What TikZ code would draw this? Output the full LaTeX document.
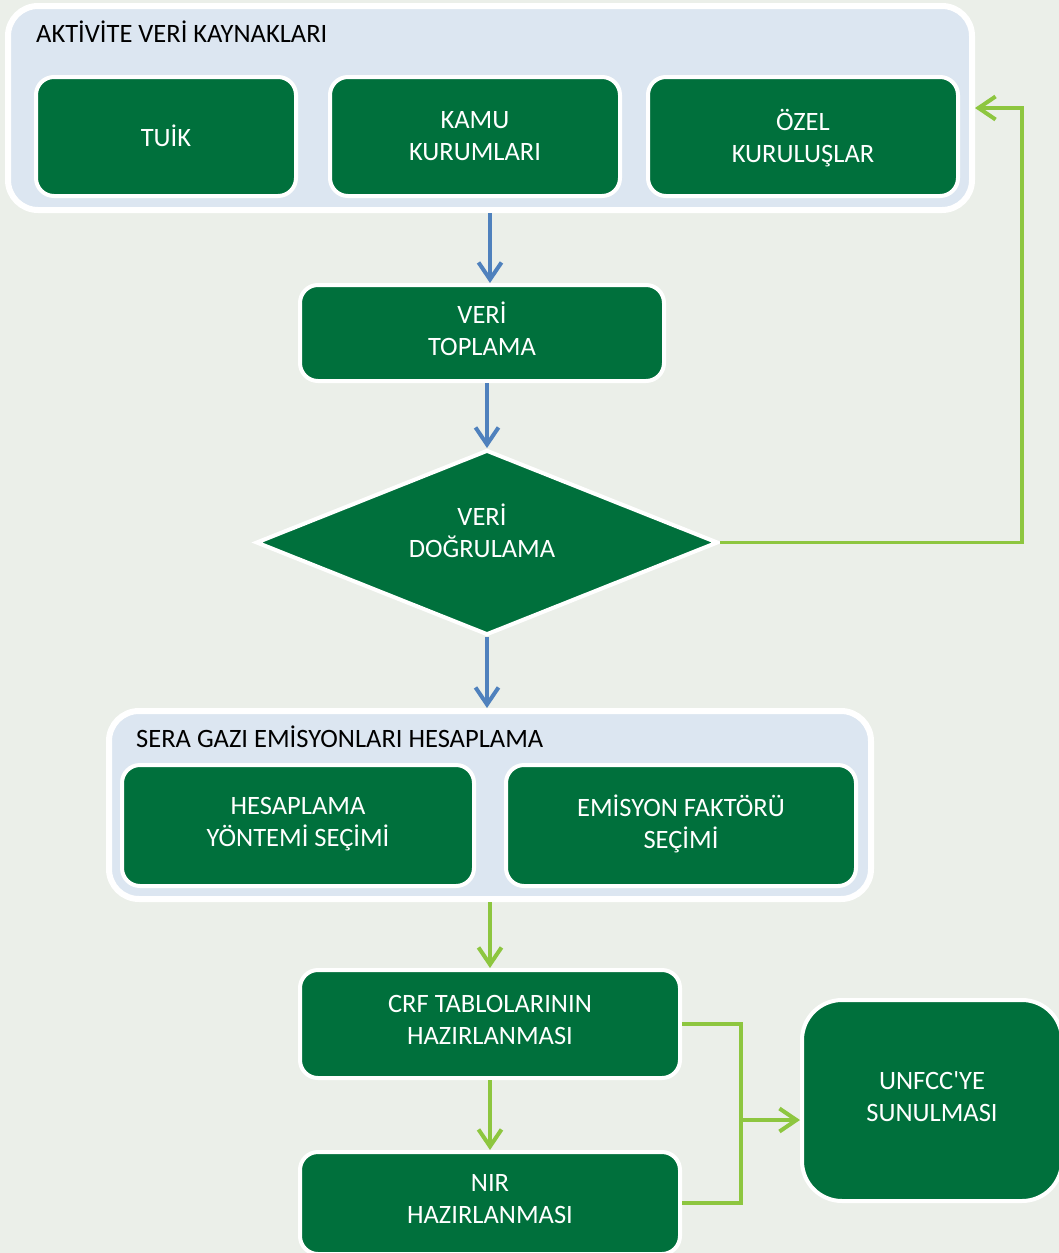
\documentclass[tikz,border=0pt]{standalone}
\usepackage{fontspec}
\setmainfont{Carlito}
\usetikzlibrary{arrows.meta,shapes.geometric}
\definecolor{bgcol}{RGB}{235,239,233}
\definecolor{panelcol}{RGB}{220,230,241}
\definecolor{dkgreen}{RGB}{0,112,60}
\definecolor{flowblue}{RGB}{79,129,189}
\definecolor{ltgreen}{RGB}{141,198,63}
\begin{document}
\begin{tikzpicture}[x=1pt,y=-1pt,
  panel/.style={rectangle, rounded corners=30pt, fill=panelcol, draw=white, line width=6pt, inner sep=0pt},
  stepbox/.style={rectangle, rounded corners=18pt, fill=dkgreen, draw=white, line width=4pt,
    text=white, align=center, inner sep=0pt, text depth=8pt, font=\fontsize{26.5}{32}\selectfont},
  title/.style={anchor=base west, inner sep=0pt, font=\fontsize{26.5}{32}\selectfont},
  flow/.style={line width=3.5pt, -{Straight Barb[length=17pt,width=23pt,line width=4pt]}},
  link/.style={line width=3.5pt, ltgreen}]
\clip (0,0) rectangle (1059,1253);
\fill[bgcol] (0,0) rectangle (1059,1253);
% data sources
\node[panel, minimum width=964pt, minimum height=204pt] (src) at (490,108){};
\node[title] (srct) at (36,42){AKTİVİTE VERİ KAYNAKLARI};
\node[stepbox, text depth=2pt, minimum width=260pt, minimum height=119pt] (tuik) at (166,136.5){TUİK};
\node[stepbox, text depth=2pt, minimum width=290pt, minimum height=119pt] (kamu) at (475,136.5){KAMU\\KURUMLARI};
\node[stepbox, text depth=2pt, minimum width=310pt, minimum height=119pt] (ozel) at (803,136.5){ÖZEL\\KURULUŞLAR};
% collection and check
\node[stepbox, minimum width=364pt, minimum height=96pt] (top) at (482,333){VERİ\\TOPLAMA};
\node[stepbox, diamond, rounded corners=0pt, aspect=2.5, minimum width=462pt, minimum height=185pt] (chk) at (487,542.5){};
\node[text=white, align=center, inner sep=0pt, font=\fontsize{26.5}{32}\selectfont] (chkt) at (482,531){VERİ\\DOĞRULAMA};
% emission calculation
\node[panel, minimum width=762pt, minimum height=188pt] (ghg) at (490,805){};
\node[title] (ghgt) at (136,747){SERA GAZI EMİSYONLARI HESAPLAMA};
\node[stepbox, minimum width=352pt, minimum height=121pt] (hes) at (298,825.5){HESAPLAMA\\YÖNTEMİ SEÇİMİ};
\node[stepbox, minimum width=350pt, minimum height=121pt] (emf) at (681,825.5){EMİSYON FAKTÖRÜ\\SEÇİMİ};
% reporting
\node[stepbox, minimum width=380pt, minimum height=108pt] (crf) at (490,1024){CRF TABLOLARININ\\HAZIRLANMASI};
\node[stepbox, minimum width=380pt, minimum height=102pt] (nir) at (490,1203){NIR\\HAZIRLANMASI};
\node[stepbox, rounded corners=40pt, minimum width=260pt, minimum height=201pt] (unf) at (932,1100.5){UNFCC\textquotesingle YE\\SUNULMASI};
\coordinate (jn) at (741,1120);
\draw[flow, flowblue] (src.south) -- (src.south |- top.north);
\draw[flow, flowblue] (top.south -| chk.north) -- (chk.north);
\draw[flow, flowblue] (chk.south) -- (chk.south |- ghg.north);
\draw[flow, ltgreen] (chk.east) -- ++(302,0) |- (src.east);
\draw[flow, ltgreen] (ghg.south) -- (ghg.south |- crf.north);
\draw[flow, ltgreen] (crf.south) -- (nir.north);
\draw[link] (crf.east) -- (jn |- crf.east) -- (jn |- nir.east) -- (nir.east);
\draw[flow, ltgreen] (jn) -- (jn -| unf.west);
\end{tikzpicture}
\end{document}
